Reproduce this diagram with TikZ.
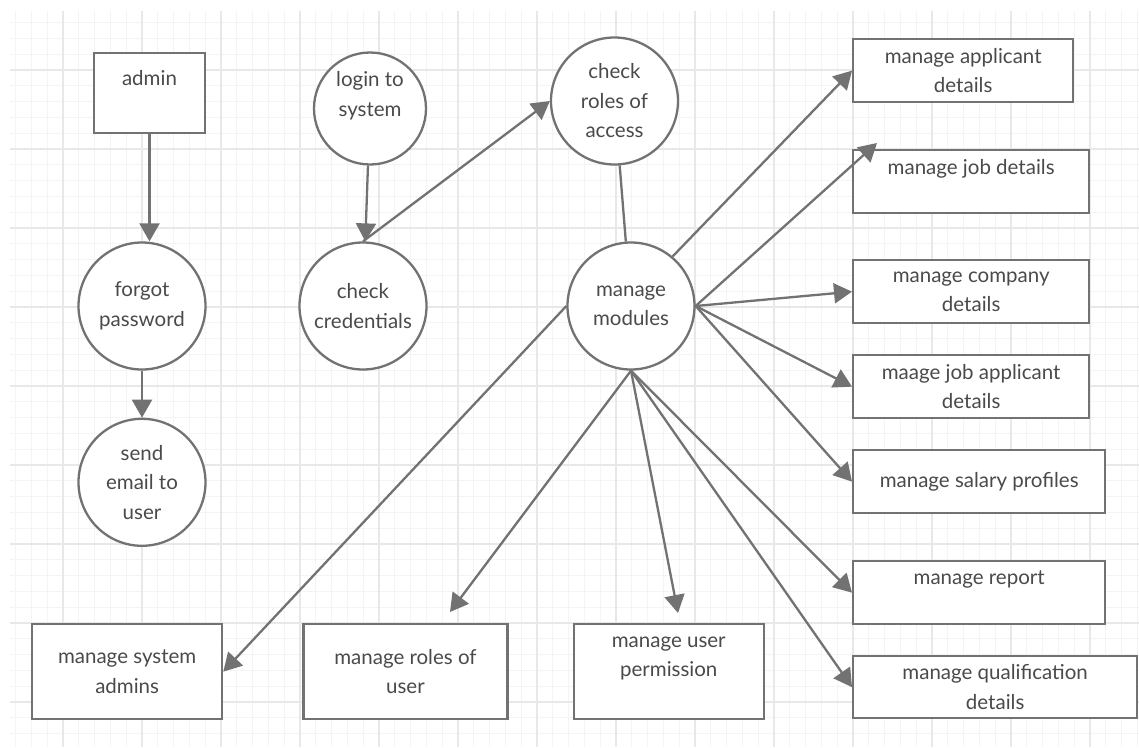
\documentclass[tikz,border=0pt]{standalone}
\usepackage{fontspec}
\setmainfont{Lato}
\usetikzlibrary{arrows.meta,positioning}

\definecolor{linegray}{HTML}{727272}
\definecolor{textgray}{HTML}{4A4A4A}
\definecolor{gridminor}{HTML}{F4F4F4}
\definecolor{gridmajor}{HTML}{E8E8E8}

\tikzset{
  process/.style={circle, draw=linegray, line width=2.3pt, fill=white, minimum size=127pt,
    inner sep=0pt, align=center, text=textgray, font=\fontsize{20.5}{29.5}\selectfont},
  entity/.style={rectangle, draw=linegray, line width=2.3pt, fill=white, inner sep=0pt,
    align=center, text=textgray, font=\fontsize{20.5}{29.5}\selectfont},
  flow/.style={draw=linegray, line width=2.3pt, -{Triangle[length=18pt,width=20pt]}},
  link/.style={draw=linegray, line width=2.3pt},
}

\begin{document}
\begin{tikzpicture}[x=1pt,y=-1pt]
  \useasboundingbox (0,0) rectangle (1139,747);
  % grid
  \foreach \k in {-3,...,68} \draw[gridminor, line width=1pt] ({63+15.8*\k},11) -- ({63+15.8*\k},747);
  \foreach \k in {-3,...,42} \draw[gridminor, line width=1pt] (10,{70+15.8*\k}) -- (1139,{70+15.8*\k});
  \foreach \k in {0,...,13} \draw[gridmajor, line width=1.2pt] ({63+79*\k},11) -- ({63+79*\k},747);
  \foreach \k in {0,...,8} \draw[gridmajor, line width=1.2pt] (10,{70+79*\k}) -- (1139,{70+79*\k});

  % left column
  \node[entity, minimum width=111pt, minimum height=80pt] (admin) at (149.5,93) {admin\\\mbox{}};
  \node[process] (forgot) at (142,306) {forgot\\password};
  \node[process] (email) [below=47pt of forgot] {send\\email to\\user};

  % login chain
  \node[process, minimum size=112pt] (login) at (370,108.5) {login to\\system\\\mbox{}};
  \node[process] (cred) at (363,306) {check\\credentials};
  \node[process] (roles) at (614.5,101) {check\\roles of\\access};
  \node[process] (mm) at (631,306) {manage\\modules};

  % modules on the right
  \node[entity, anchor=north west, minimum width=220pt, minimum height=63pt] (app) at (852,38) {manage applicant\\details};
  \node[entity, anchor=north west, minimum width=236pt, minimum height=63pt] (job) at (852,149) {manage job details\\\mbox{}};
  \node[entity, anchor=north west, minimum width=236pt, minimum height=63pt] (comp) at (852,259) {manage company\\details};
  \node[entity, anchor=north west, minimum width=236pt, minimum height=63pt] (jobapp) at (852,354) {maage job applicant\\details};
  \node[entity, anchor=north west, minimum width=252pt, minimum height=63pt] (salary) at (852,449) {manage salary profiles};
  \node[entity, anchor=north west, minimum width=252pt, minimum height=63pt] (report) at (852,560) {manage report\\\mbox{}};
  \node[entity, anchor=north west, minimum width=284pt, minimum height=62pt] (qual) at (852,655) {manage qualification\\details};

  % modules at the bottom
  \node[entity, anchor=north west, minimum width=190pt, minimum height=95pt] (sysadm) at (31,623) {manage system\\admins};
  \node[entity, minimum width=204pt, minimum height=95pt] (roleuser) [right=79pt of sysadm] {manage roles of\\user};
  \node[entity, minimum width=190pt, minimum height=95pt] (perm) [right=64pt of roleuser] {manage user\\permission\\\mbox{}};

  \coordinate (jobtip) at (877,143);
  \coordinate (rutip) at (450,612);
  \coordinate (permtip) at (678,613);

  \draw[flow] (admin.south) -- (admin.south |- forgot.north);
  \draw[flow] (forgot) -- (email);
  \draw[flow] (login) -- (cred);
  \draw[flow] (cred.north) -- (roles.west);
  \draw[link] (roles) -- (mm);
  \draw[flow] (mm.50) -- (app.west);
  \draw[flow] (mm.east) -- (jobtip);
  \draw[flow] (mm.east) -- (comp.west);
  \draw[flow] (mm.east) -- (jobapp.west);
  \draw[flow] (mm.east) -- (salary.west);
  \draw[flow] (mm.south) -- (report.west);
  \draw[flow] (mm.south) -- (qual.west);
  \draw[flow] (mm.south) -- (permtip);
  \draw[flow] (mm.south) -- (rutip);
  \draw[flow] (mm.west) -- (sysadm.east);
\end{tikzpicture}
\end{document}
